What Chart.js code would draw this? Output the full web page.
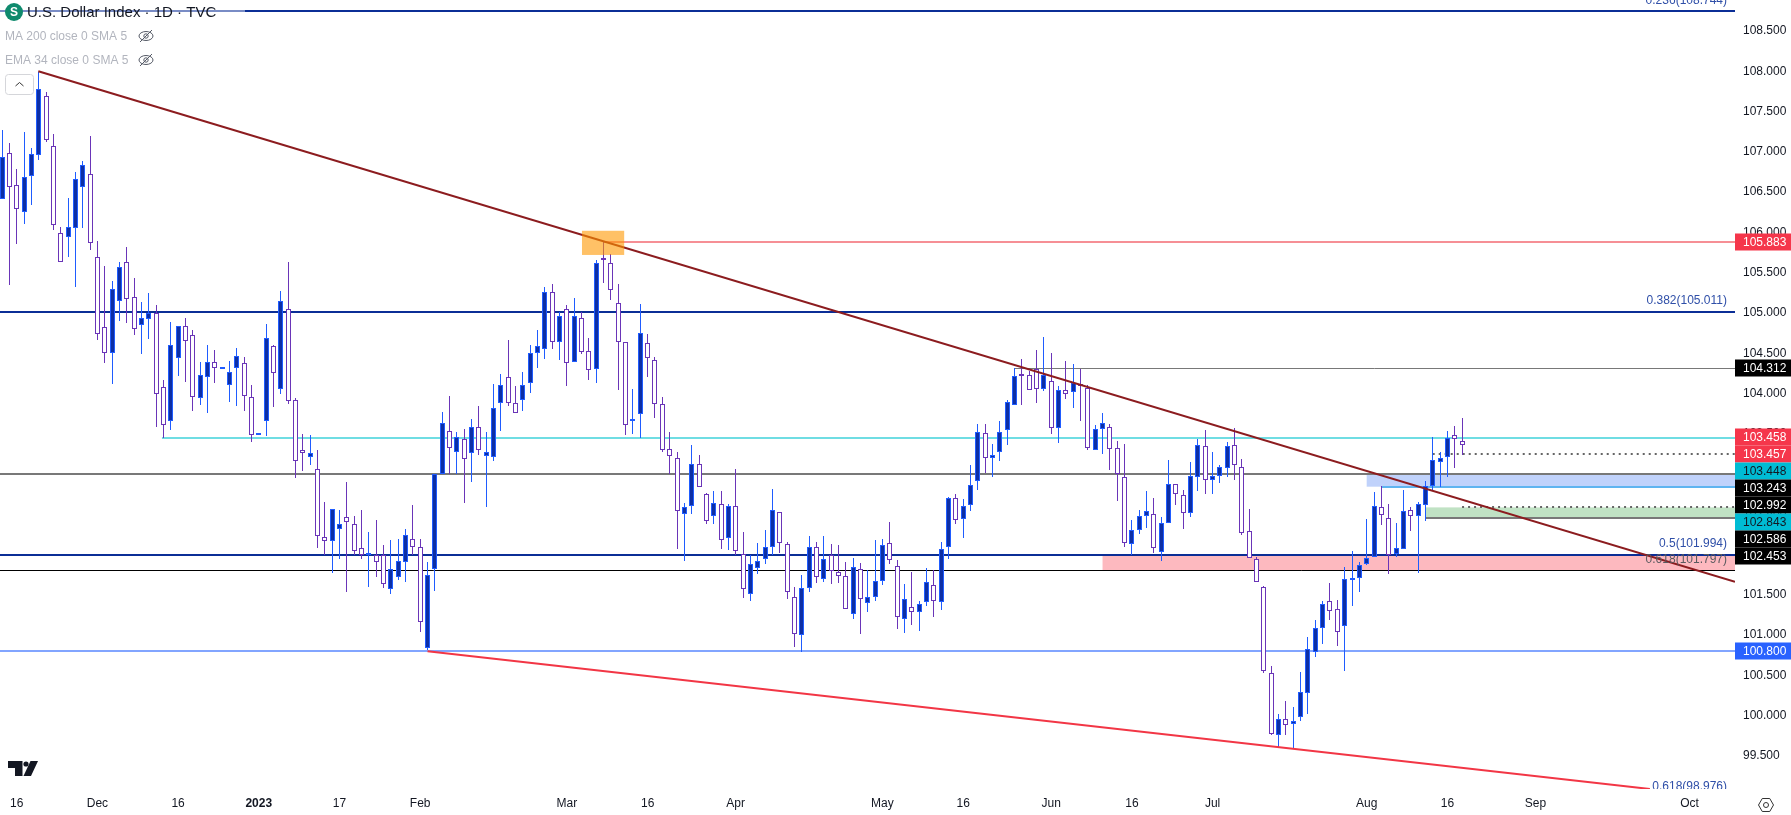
<!DOCTYPE html>
<html>
<head>
<meta charset="utf-8">
<title>U.S. Dollar Index</title>
<script src="https://cdn.jsdelivr.net/npm/chart.js@4"></script>
<style>
  html, body { margin: 0; padding: 0; background: #ffffff; overflow: hidden; }
  canvas { display: block; }
</style>
</head>
<body>
<canvas id="dxyChart" width="1791" height="815"></canvas>
<script>
// Daily candles, one entry per session
const opens = [
  106.41,106.99,106.59,106.25,106.70,106.96,107.69,107.07,105.99,105.94,
  106.05,106.56,106.72,105.69,104.83,104.50,105.15,105.63,105.20,104.85,
  104.92,105.00,104.08,103.66,104.44,104.84,104.73,103.94,104.20,104.39,
  104.30,104.11,104.32,104.38,103.96,103.48,103.66,104.59,104.06,105.05,
  103.92,103.30,103.21,103.06,102.22,102.17,102.32,102.47,102.38,102.08,
  101.99,101.99,101.99,101.57,101.72,101.91,102.19,102.09,100.84,101.82,
  103.00,103.53,103.27,103.43,103.26,103.58,103.22,103.21,103.88,104.20,
  103.88,103.92,104.13,104.50,104.55,105.26,104.64,105.05,104.39,104.94,
  104.53,104.30,105.68,105.62,105.12,104.64,103.66,103.74,104.63,104.42,
  103.87,103.31,103.20,102.50,102.60,103.12,102.75,102.48,102.63,102.21,
  102.60,102.01,101.51,101.83,101.95,102.09,102.53,102.13,101.47,101.00,
  101.59,102.10,101.70,101.99,101.79,101.74,101.26,101.82,101.40,101.47,
  101.67,102.14,101.86,101.20,101.35,101.29,101.41,101.62,101.41,102.09,
  102.70,102.44,102.62,102.91,103.51,103.20,103.27,103.55,103.86,104.24,
  104.23,104.30,104.06,104.15,103.57,104.04,104.02,104.12,104.07,103.30,
  103.56,103.58,103.32,102.96,102.13,102.30,102.48,102.50,102.03,102.39,
  102.88,102.74,102.52,102.96,103.35,102.93,102.98,103.08,103.36,103.09,
  102.29,101.94,101.60,100.53,99.76,99.96,99.90,99.98,100.28,100.79,
  101.09,101.42,101.32,101.11,101.68,101.71,101.88,101.97,102.59,102.45,
  102.01,102.07,102.55,102.48,102.62,102.85,103.15,103.21,103.48,103.41
];
const highs = [
  107.27,107.11,106.79,107.25,107.05,107.99,107.74,107.22,106.07,106.43,
  106.75,106.89,107.20,105.89,105.58,105.40,105.63,105.82,105.43,105.14,
  105.25,105.10,104.17,104.89,104.84,104.94,104.79,104.39,104.60,104.54,
  104.33,104.40,104.56,104.45,104.11,103.51,104.86,104.60,105.27,105.63,
  103.94,103.50,103.48,103.30,102.65,102.57,102.55,102.90,102.48,102.55,
  102.28,102.43,102.12,102.18,102.19,102.32,102.62,102.19,101.91,103.00,
  103.77,103.97,103.52,103.56,103.68,103.84,103.52,104.12,104.24,104.66,
  104.09,104.27,104.60,104.79,105.32,105.36,105.01,105.10,105.19,105.01,
  104.69,105.66,105.88,105.73,105.36,104.64,104.06,105.11,104.74,104.45,
  103.96,103.52,103.27,102.64,103.36,103.24,102.76,102.79,102.79,102.63,
  103.06,102.28,101.99,102.14,102.31,102.81,102.53,102.16,101.60,101.75,
  102.23,102.16,102.23,102.13,102.12,101.91,101.96,101.90,101.81,102.18,
  102.19,102.40,101.93,101.64,101.79,101.42,101.83,101.81,102.16,102.71,
  102.75,102.69,103.11,103.62,103.62,103.37,103.66,103.92,104.32,104.43,
  104.28,104.54,104.70,104.50,104.09,104.40,104.36,104.30,104.10,103.61,
  103.76,103.62,103.41,103.37,102.43,102.55,102.79,102.70,102.47,103.17,
  102.88,102.80,103.15,103.43,103.55,103.27,103.11,103.40,103.57,103.19,
  102.57,101.97,101.61,100.62,100.02,100.18,100.11,100.54,100.98,101.19,
  101.42,101.65,101.44,101.85,102.04,101.91,102.44,102.78,102.85,102.63,
  102.39,102.80,102.59,102.65,102.91,103.46,103.27,103.53,103.60,103.70
];
const lows = [
  106.41,105.35,105.86,106.10,106.34,106.90,107.12,106.03,105.63,105.69,
  105.32,106.05,105.78,104.66,104.38,104.12,104.90,104.87,104.73,104.49,
  104.68,103.58,103.45,103.55,104.22,104.14,103.78,103.86,103.76,104.13,
  104.30,103.89,103.84,103.78,103.40,103.48,103.47,103.83,103.99,103.87,
  102.95,103.04,103.11,102.08,101.99,101.77,101.94,101.54,101.99,101.94,
  101.60,101.72,101.59,101.51,101.68,101.66,101.99,101.04,100.81,101.55,
  103.00,103.00,103.00,102.64,102.90,103.24,102.59,103.16,103.53,103.84,
  103.76,103.78,104.01,104.32,104.43,104.55,104.42,104.09,104.39,104.49,
  104.17,104.13,105.37,105.16,104.04,103.48,103.50,103.45,104.20,103.70,
  103.27,103.00,102.07,101.92,102.50,102.84,102.38,102.38,102.07,102.06,
  101.99,101.46,101.42,101.76,101.88,101.99,102.02,101.45,100.85,100.79,
  101.54,101.65,101.66,101.64,101.65,101.32,101.20,101.01,101.29,101.42,
  101.62,101.88,101.08,101.03,101.13,101.05,101.36,101.22,101.31,101.94,
  102.38,102.21,102.54,102.80,103.01,102.96,103.16,103.36,103.86,103.86,
  104.04,103.88,104.03,103.50,103.39,103.93,103.82,103.66,103.30,103.30,
  103.25,103.05,102.66,102.09,101.99,102.26,102.33,102.02,101.92,102.39,
  102.62,102.32,102.47,102.79,102.75,102.75,102.89,102.96,102.93,102.24,
  101.96,101.66,100.53,99.76,99.60,99.76,99.60,99.93,100.02,100.73,
  100.89,101.19,100.86,100.55,101.36,101.54,101.87,101.97,102.37,101.76,
  101.97,102.07,102.29,101.77,102.42,102.79,102.84,102.96,103.08,103.24
];
const closes = [
  106.94,106.56,106.29,106.69,106.97,107.78,107.15,106.09,105.63,106.07,
  106.66,106.84,105.87,104.74,104.50,105.30,105.57,105.17,104.80,104.94,
  105.00,103.99,103.61,104.60,104.84,104.65,103.96,104.23,104.39,104.32,
  104.33,104.27,104.47,103.97,103.48,103.51,104.69,104.25,105.15,103.91,
  103.16,103.26,103.26,102.23,102.17,102.57,102.38,102.40,102.04,101.99,
  102.02,101.91,101.64,101.82,101.92,102.24,102.09,101.16,101.75,103.00,
  103.63,103.32,103.46,103.19,103.58,103.30,103.27,103.82,104.10,103.88,
  103.76,104.10,104.50,104.59,105.26,104.64,104.96,104.38,104.96,104.51,
  104.29,105.62,105.66,105.28,104.64,103.61,103.68,104.75,104.44,103.87,
  103.30,103.22,102.54,102.59,103.12,102.84,102.42,102.64,102.18,102.60,
  102.04,101.57,101.88,101.92,102.09,102.55,102.14,101.54,101.01,101.59,
  102.09,101.72,101.94,101.80,101.74,101.32,101.85,101.45,101.47,101.67,
  102.12,101.93,101.22,101.45,101.29,101.39,101.66,101.42,102.07,102.70,
  102.43,102.60,102.86,103.52,103.20,103.24,103.52,103.89,104.22,104.22,
  104.04,104.06,104.23,103.57,104.04,103.99,104.13,104.09,103.32,103.56,
  103.63,103.31,103.00,102.14,102.30,102.48,102.54,102.08,102.39,102.88,
  102.75,102.52,102.98,103.36,102.93,102.98,103.09,103.35,103.11,102.27,
  101.96,101.66,100.55,99.77,99.96,99.88,99.93,100.29,100.83,101.09,
  101.39,101.30,101.04,101.70,101.71,101.87,101.96,102.60,102.49,101.99,
  102.08,102.54,102.48,102.63,102.85,103.17,103.20,103.45,103.43,103.36
];

// Axis ticks
const xTickIndex = [2, 13, 24, 35, 46, 57, 77, 88, 100, 120, 131, 143, 154, 165, 186, 197, 209, 230];
const xTickLabels = ["16", "Dec", "16", "2023", "17", "Feb", "Mar", "16", "Apr", "May", "16", "Jun", "16", "Jul", "Aug", "16", "Sep", "Oct"];
const yTicks = [108.5, 108, 107.5, 107, 106.5, 106, 105.5, 105, 104.5, 104, 103.5, 103, 102.5, 102, 101.5, 101, 100.5, 100, 99.5];

// Horizontal levels: price and the candle they start from
const levelValues = [108.744, 105.011, 101.994, 101.797, 103.0, 100.8, 103.448, 104.312, 105.883, 103.458, 103.243, 102.843, 102.586, 102.453];
const levelStarts = [-1, -1, -1, -1, -1, -1, 21.8, 138, 82, 195, 195, 188, 199, 194];

// Shaded zones on the price axis
const bandStarts = [186, 194, 150];
const bandTops = [103.0, 102.586, 101.994];
const bandBottoms = [102.843, 102.453, 101.797];
const boxStart = 79.05, boxEnd = 84.8, boxTop = 106.02, boxBottom = 105.72;

// Trend lines: [index, price] pairs
const upperTrend = [[4.95, 108.0], [236.2, 101.663]];
const lowerTrend = [[58, 100.8], [224.6, 99.09]];

// Fib texts and price flags
const fibValues = [108.744, 105.011, 101.994, 101.797, 98.976];
const fibTexts = ["0.236(108.744)", "0.382(105.011)", "0.5(101.994)", "0.618(101.797)", "0.618(98.976)"];
const flagValues = [105.883, 104.312, 103.458, 103.457, 103.448, 103.243, 102.992, 102.843, 102.586, 102.453, 100.8];

// Styling
const X_MIN = -0.2726, X_MAX = 236.2, Y_MIN = 99.09, Y_MAX = 108.885;
const NAVY = "#0b2e96", GRAY = "#787878";
const levelColors = [NAVY, NAVY, NAVY, "#000000", GRAY, "#82a5ff", "#6fdde3", GRAY, "#f68f95", "#bb4a58", "#666666", "#5fb4f0", "#666666", GRAY];
const levelWidths = [2, 2, 2, 1, 2, 2, 2, 1, 2, 1, 2, 2, 2, 2];
const levelDotted = [false, false, false, false, false, false, false, false, false, false, true, false, true, false];
const bandColors = ["#c0d2fb", "#c0e2c4", "#fdb9bf"];
const fibColors = ["#2f4fa8", "#2f4fa8", "#2f4fa8", "#5a5a5f", "#2f4fa8"];
const flagColors = ["#f5364b", "#000000", "#f5364b", "#f5364b", "#00bcd4", "#000000", "#000000", "#00bcd4", "#000000", "#000000", "#2962ff"];
const flagTextColors = ["#fff", "#fff", "#fff", "#fff", "#131722", "#fff", "#fff", "#131722", "#fff", "#fff", "#fff"];
const UI_FONT = '"Liberation Sans", Arial, sans-serif';

const isUp = i => closes[i] >= opens[i];

// Keep candles and level lines on whole pixels, like the original
const pixelSnap = {
  id: "pixelSnap",
  afterDatasetsUpdate(chart) {
    chart.data.datasets.forEach((ds, d) => {
      const meta = chart.getDatasetMeta(d);
      if (ds.snapBars) {
        meta.data.forEach(el => {
          el.x = Math.floor(el.x) + 0.5;
          el.y = Math.round(el.y);
          el.base = Math.round(el.base);
          if (ds.minBody && Math.abs(el.base - el.y) < ds.minBody) el.base = el.y + ds.minBody;
        });
      }
      if (ds.snapLine) {
        meta.data.forEach(el => {
          el.y = ds.borderWidth % 2 ? Math.floor(el.y) + 0.5 : Math.round(el.y);
        });
      }
    });
  }
};

const zones = {
  id: "zones",
  beforeDatasetsDraw(chart) {
    const { ctx, scales: { x, y }, chartArea } = chart;
    bandStarts.forEach((start, i) => {
      const left = x.getPixelForValue(start);
      const top = y.getPixelForValue(bandTops[i]);
      ctx.fillStyle = bandColors[i];
      ctx.fillRect(left, top, chartArea.right - left, y.getPixelForValue(bandBottoms[i]) - top);
    });
  },
  afterDatasetsDraw(chart) {
    const { ctx, scales: { x, y } } = chart;
    const left = x.getPixelForValue(boxStart), top = y.getPixelForValue(boxTop);
    ctx.fillStyle = "rgba(255, 152, 0, 0.6)";
    ctx.fillRect(left, top, x.getPixelForValue(boxEnd) - left, y.getPixelForValue(boxBottom) - top);
  }
};

function drawEye(ctx, cx, cy) {
  ctx.save();
  ctx.strokeStyle = "#555a66";
  ctx.lineWidth = 1;
  ctx.beginPath();
  ctx.ellipse(cx, cy, 7, 4.5, 0, 0, Math.PI * 2);
  ctx.stroke();
  ctx.beginPath();
  ctx.arc(cx, cy, 2.2, 0, Math.PI * 2);
  ctx.stroke();
  ctx.beginPath();
  ctx.moveTo(cx - 6, cy + 6);
  ctx.lineTo(cx + 6, cy - 6);
  ctx.stroke();
  ctx.restore();
}

// Texts, price flags and the TradingView furniture on top of the plot
const overlay = {
  id: "overlay",
  afterDraw(chart) {
    const { ctx, scales: { y }, chartArea, width } = chart;
    ctx.save();
    ctx.textBaseline = "middle";

    // fib captions sit just above their level and are clipped by the plot
    ctx.save();
    ctx.beginPath();
    ctx.rect(chartArea.left, chartArea.top, chartArea.width, chartArea.height);
    ctx.clip();
    ctx.font = "12px " + UI_FONT;
    ctx.textAlign = "right";
    fibTexts.forEach((t, i) => {
      ctx.fillStyle = fibColors[i];
      ctx.fillText(t, 1727, y.getPixelForValue(fibValues[i]) - 11);
    });
    ctx.restore();

    // price flags stack downward when they would overlap
    ctx.font = "12px " + UI_FONT;
    ctx.textAlign = "left";
    let last = -100;
    flagValues.forEach((v, i) => {
      const py = Math.max(Math.round(y.getPixelForValue(v)), last + 17);
      last = py;
      ctx.fillStyle = flagColors[i];
      ctx.fillRect(chartArea.right, py - 8.5, width - chartArea.right, 17);
      ctx.fillStyle = flagTextColors[i];
      ctx.fillText(v.toFixed(3), 1743, py + 0.5);
    });

    // legend block, top left
    ctx.fillStyle = "rgba(255,255,255,0.45)";
    ctx.fillRect(0, 0, 245, 24);
    ctx.fillStyle = "#0f8a6d";
    ctx.beginPath();
    ctx.arc(14, 12, 9, 0, Math.PI * 2);
    ctx.fill();
    ctx.fillStyle = "#fff";
    ctx.textAlign = "center";
    ctx.font = "bold 12px " + UI_FONT;
    ctx.fillText("S", 14, 12.5);
    ctx.textAlign = "left";
    ctx.fillStyle = "#131722";
    ctx.font = "15px " + UI_FONT;
    ctx.fillText("U.S. Dollar Index · 1D · TVC", 27, 13);
    ctx.fillStyle = "#b2b5be";
    ctx.font = "12px " + UI_FONT;
    ctx.fillText("MA 200 close 0 SMA 5", 5, 37);
    ctx.fillText("EMA 34 close 0 SMA 5", 5, 61);
    drawEye(ctx, 146, 36);
    drawEye(ctx, 146, 60);

    // collapse button
    ctx.strokeStyle = "#d5d6da";
    ctx.lineWidth = 1;
    ctx.beginPath();
    ctx.roundRect(5.5, 74.5, 28, 20, 3);
    ctx.stroke();
    ctx.strokeStyle = "#333";
    ctx.beginPath();
    ctx.moveTo(15.5, 86);
    ctx.lineTo(19.5, 82.5);
    ctx.lineTo(23.5, 86);
    ctx.stroke();

    // TV mark, bottom left
    ctx.fillStyle = "#131722";
    ctx.beginPath();
    ctx.moveTo(8, 761);
    ctx.lineTo(22.5, 761);
    ctx.lineTo(22.5, 776);
    ctx.lineTo(15, 776);
    ctx.lineTo(15, 768);
    ctx.lineTo(8, 768);
    ctx.closePath();
    ctx.fill();
    ctx.beginPath();
    ctx.arc(26, 764, 2.6, 0, Math.PI * 2);
    ctx.fill();
    ctx.beginPath();
    ctx.moveTo(30.5, 761);
    ctx.lineTo(38, 761);
    ctx.lineTo(31, 776);
    ctx.lineTo(23.5, 776);
    ctx.closePath();
    ctx.fill();

    // settings hexagon, bottom right
    ctx.strokeStyle = "#333";
    ctx.beginPath();
    for (let k = 0; k < 6; k++) {
      const a = Math.PI / 3 * k;
      const hx = 1766 + 7.5 * Math.cos(a), hy = 805 + 7.5 * Math.sin(a);
      if (k === 0) ctx.moveTo(hx, hy); else ctx.lineTo(hx, hy);
    }
    ctx.closePath();
    ctx.stroke();
    ctx.beginPath();
    ctx.arc(1766, 805, 2.5, 0, Math.PI * 2);
    ctx.stroke();

    ctx.restore();
  }
};

// Build the datasets
const wickData = highs.map((h, i) => ({ x: i, y: [lows[i], h] }));
const bodyData = opens.map((o, i) => ({ x: i, y: [o, closes[i]] }));

const levelSets = levelValues.map((v, i) => ({
  type: "line",
  data: [{ x: Math.max(levelStarts[i], X_MIN), y: v }, { x: X_MAX, y: v }],
  borderColor: levelColors[i],
  borderWidth: levelWidths[i],
  borderDash: levelDotted[i] ? [2, 4] : [],
  pointRadius: 0,
  snapLine: true,
  order: 10
}));

const trendSet = (pts, color) => ({
  type: "line",
  data: pts.map(p => ({ x: p[0], y: p[1] })),
  borderColor: color,
  borderWidth: 2,
  pointRadius: 0,
  order: 1
});

new Chart(document.getElementById("dxyChart"), {
  type: "bar",
  data: {
    datasets: [
      ...levelSets,
      {
        data: wickData,
        grouped: false,
        barThickness: 1,
        borderWidth: 0,
        inflateAmount: 0,
        snapBars: true,
        backgroundColor: wickData.map((d, i) => isUp(i) ? "#1f5cff" : "#6a35b8"),
        order: 5
      },
      {
        data: bodyData,
        grouped: false,
        barThickness: 5,
        borderWidth: 1,
        borderSkipped: false,
        inflateAmount: 0,
        snapBars: true,
        minBody: 2,
        backgroundColor: bodyData.map((d, i) => isUp(i) ? "#0d2fa5" : "#ffffff"),
        borderColor: bodyData.map((d, i) => isUp(i) ? "#1f5cff" : "#6a35b8"),
        order: 4
      },
      trendSet(upperTrend, "#8c1c1f"),
      trendSet(lowerTrend, "#f23645")
    ]
  },
  options: {
    responsive: false,
    animation: false,
    layout: { autoPadding: false, padding: 0 },
    plugins: { legend: { display: false }, tooltip: { enabled: false } },
    scales: {
      x: {
        type: "linear",
        offset: false,
        min: X_MIN,
        max: X_MAX,
        grid: { display: false, drawTicks: false },
        border: { display: false },
        afterBuildTicks: axis => { axis.ticks = xTickIndex.map(v => ({ value: v })); },
        afterFit: axis => { axis.height = 26; axis.paddingLeft = 0; axis.paddingRight = 0; },
        ticks: {
          autoSkip: false,
          maxRotation: 0,
          padding: 7,
          color: "#131722",
          font: ctx => ({ family: UI_FONT, size: 12, weight: ctx.tick && ctx.tick.value === 35 ? "bold" : "normal" }),
          callback: value => xTickLabels[xTickIndex.indexOf(value)]
        }
      },
      y: {
        position: "right",
        min: Y_MIN,
        max: Y_MAX,
        grid: { display: false, drawTicks: false },
        border: { display: false },
        afterBuildTicks: axis => { axis.ticks = yTicks.map(v => ({ value: v })); },
        afterFit: axis => { axis.width = 56; axis.paddingTop = 0; axis.paddingBottom = 0; },
        ticks: {
          autoSkip: false,
          padding: 8,
          color: "#131722",
          font: { family: UI_FONT, size: 12 },
          callback: value => value.toFixed(3)
        }
      }
    }
  },
  plugins: [pixelSnap, zones, overlay]
});
</script>
</body>
</html>
